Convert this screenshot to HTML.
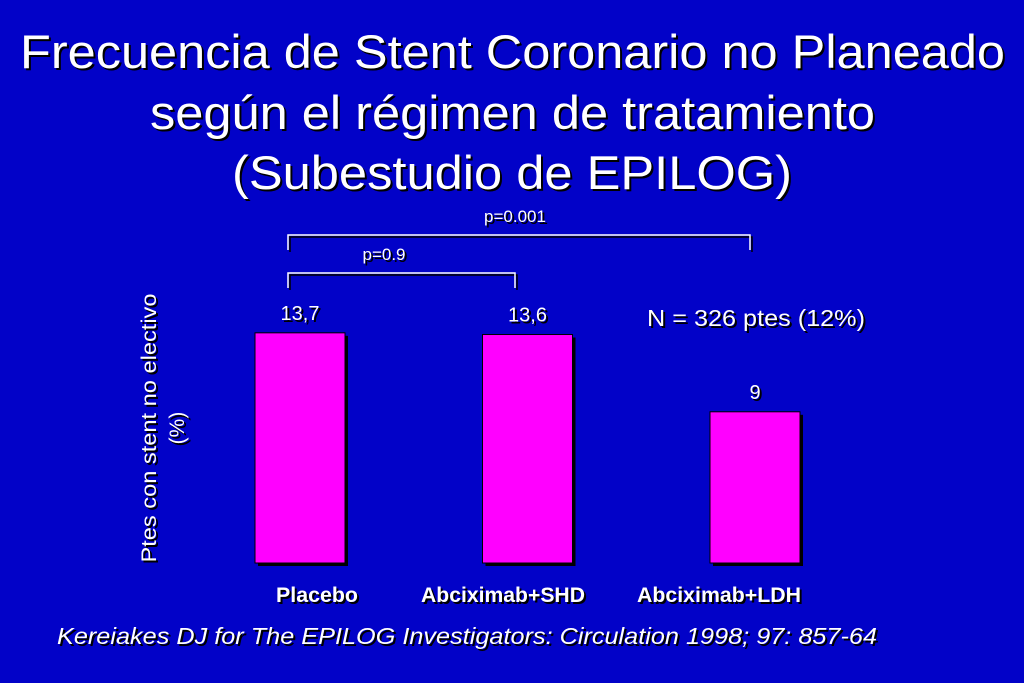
<!DOCTYPE html>
<html><head><meta charset="utf-8"><style>
body{margin:0;width:1024px;height:683px;background:#0202c8;overflow:hidden;font-family:"Liberation Sans",sans-serif;color:#fff}
svg{position:absolute;left:0;top:0}
text{fill:#fff;font-family:"Liberation Sans",sans-serif}
.sh{filter:drop-shadow(2px 2px 0 #000)}
</style></head><body>
<svg width="1024" height="683">
<g class="sh">
<text x="20" y="68" font-size="47" textLength="985" lengthAdjust="spacingAndGlyphs">Frecuencia de Stent Coronario no Planeado</text>
<text x="150" y="129" font-size="47" textLength="725" lengthAdjust="spacingAndGlyphs">según el régimen de tratamiento</text>
<text x="232" y="189" font-size="47" textLength="560" lengthAdjust="spacingAndGlyphs">(Subestudio de EPILOG)</text>
</g>
<g class="sh">
<text transform="translate(156,428) rotate(-90)" text-anchor="middle" font-size="21" textLength="269" lengthAdjust="spacingAndGlyphs">Ptes con stent no electivo</text>
<text transform="translate(184,428) rotate(-90)" text-anchor="middle" font-size="21">(%)</text>
</g>
<g id="bars"></g>
<g class="sh" fill="none" stroke="#fff" stroke-width="1.5">
<path d="M288,250 V235 H750 V250" fill="none" stroke="#fff"/>
<path d="M288,288 V273 H515 V288" fill="none" stroke="#fff"/>
</g>
<g class="sh">
<text x="515" y="222" text-anchor="middle" font-size="17">p=0.001</text>
<text x="384" y="260" text-anchor="middle" font-size="17">p=0.9</text>
<text x="647" y="326" font-size="23" textLength="218" lengthAdjust="spacingAndGlyphs">N = 326 ptes (12%)</text>
<text x="57" y="644" font-size="23" font-style="italic" textLength="820" lengthAdjust="spacingAndGlyphs">Kereiakes DJ for The EPILOG Investigators: Circulation 1998; 97: 857-64</text>
</g>
</svg>
<script>
const categories=["Placebo","Abciximab+SHD","Abciximab+LDH"];
const values=[13.7,13.6,9];
const valueLabels=["13,7","13,6","9"];
const base=563, scale=16.8;
function xPos(i){return 255+i*227.5;}
function yPos(v){return base-v*scale;}
const g=document.getElementById('bars');const ns="http://www.w3.org/2000/svg";
categories.forEach((c,i)=>{
 const x=xPos(i),y=yPos(values[i]);
 const s=document.createElementNS(ns,'rect');
 s.setAttribute('x',x+3);s.setAttribute('y',y+3);s.setAttribute('width',90);s.setAttribute('height',base-y);s.setAttribute('fill','#000');
 
 
 g.appendChild(s);
 const r=document.createElementNS(ns,'rect');
 r.setAttribute('x',x);r.setAttribute('y',y);r.setAttribute('width',90);r.setAttribute('height',base-y);r.setAttribute('fill','#ff00ff');r.setAttribute('stroke','#000');r.setAttribute('stroke-width','1');
 
 
 g.appendChild(r);
 const t=document.createElementNS(ns,'text');
 t.setAttribute('x',x+45);t.setAttribute('y',y-13);t.setAttribute('text-anchor','middle');t.setAttribute('font-size','20');t.setAttribute('class','sh');
 t.textContent=valueLabels[i];
 
 
 g.appendChild(t);
 const l=document.createElementNS(ns,'text');
 l.setAttribute('y',602);l.setAttribute('text-anchor','middle');l.setAttribute('font-size','21');l.setAttribute('font-weight','bold');l.setAttribute('class','sh');
 l.setAttribute('textLength',i==0?82:i==1?164:164);
 l.setAttribute('lengthAdjust','spacingAndGlyphs');
 l.setAttribute('x',i==0?317:i==1?503:719);
 l.textContent=c;
 
 
 g.appendChild(l);
});
</script>
</body></html>
